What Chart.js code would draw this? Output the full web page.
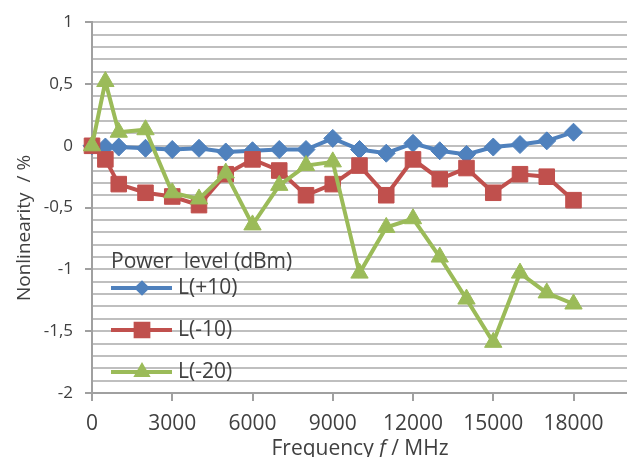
<!DOCTYPE html>
<html>
<head>
<meta charset="utf-8">
<script src="https://cdn.jsdelivr.net/npm/chart.js@4.4.1/dist/chart.umd.min.js"></script>
<style>
  html, body { margin: 0; padding: 0; background: #fff; }
  #wrap { width: 627px; height: 457px; position: relative; }
</style>
</head>
<body>
<div id="wrap"><canvas id="chart"></canvas></div>
<script>
// Frequencies (MHz) and nonlinearity (%)
const freqs = [0, 500, 1000, 2000, 3000, 4000, 5000, 6000, 7000, 8000, 9000,
               10000, 11000, 12000, 13000, 14000, 15000, 16000, 17000, 18000];
const seriesP10 = [0, -0.01, -0.01, -0.02, -0.03, -0.02, -0.05, -0.04, -0.03, -0.03, 0.06,
                   -0.03, -0.06, 0.02, -0.04, -0.07, -0.01, 0.01, 0.04, 0.11];
const seriesM10 = [0, -0.11, -0.31, -0.38, -0.41, -0.48, -0.23, -0.11, -0.2, -0.4, -0.31,
                   -0.16, -0.4, -0.11, -0.27, -0.18, -0.38, -0.23, -0.25, -0.44];
const seriesM20 = [0, 0.52, 0.11, 0.13, -0.38, -0.43, -0.22, -0.64, -0.32, -0.16, -0.13,
                   -1.03, -0.66, -0.59, -0.9, -1.24, -1.59, -1.03, -1.19, -1.28];
const seriesNames = ['L(+10)', 'L(-10)', 'L(-20)'];
const legendTitle = 'Power  level (dBm)';
const xTicks = [0, 3000, 6000, 9000, 12000, 15000, 18000];

const FONT = "'Open Sans', sans-serif";
const TEXT = '#404040';
const GRID = '#bfbfbf';
const AXIS = '#a0a0a0';

const toXY = arr => arr.map((v, i) => ({ x: freqs[i], y: v }));

function makeSet(label, data, color, style, radius, order) {
    return {
        label: label, data: toXY(data), borderColor: color, backgroundColor: color,
        borderWidth: 4, pointStyle: style, pointRadius: radius, pointHoverRadius: radius,
        pointBorderWidth: 1, pointBackgroundColor: color, pointBorderColor: color,
        clip: false, order: order
    };
}

const legendMarks = [
    { style: 'rectRot', radius: 5 },
    { style: 'rect', radius: 9 },
    { style: 'triangle', radius: 6 }
];

// legend inside the plot + axis titles (the x title has an italic f)
const extras = {
    id: 'extras',
    afterDraw(chart) {
        const ctx = chart.ctx;
        ctx.save();
        ctx.fillStyle = TEXT;
        ctx.textBaseline = 'middle';
        ctx.textAlign = 'left';
        ctx.font = `21px ${FONT}`;
        ctx.fillText(legendTitle, 111, 262);

        chart.data.datasets.forEach((ds, i) => {
            const y = 288 + i * 42;
            ctx.strokeStyle = ds.borderColor;
            ctx.lineWidth = 4;
            ctx.beginPath();
            ctx.moveTo(111, y);
            ctx.lineTo(172, y);
            ctx.stroke();
            ctx.fillStyle = ds.borderColor;
            Chart.helpers.drawPoint(ctx, {
                pointStyle: legendMarks[i].style, radius: legendMarks[i].radius,
                rotation: 0, borderWidth: 1
            }, 142, y);
            ctx.fillStyle = TEXT;
            ctx.font = `21px ${FONT}`;
            ctx.fillText(ds.label, 178, y);
        });

        // x title
        const parts = [
            { t: 'Frequency ', f: `21px ${FONT}` },
            { t: 'f', f: `italic 21px ${FONT}` },
            { t: ' / MHz', f: `21px ${FONT}` }
        ];
        let w = 0;
        parts.forEach(p => { ctx.font = p.f; w += ctx.measureText(p.t).width; });
        let x = 360 - w / 2;
        ctx.textBaseline = 'alphabetic';
        parts.forEach(p => {
            ctx.font = p.f;
            ctx.fillText(p.t, x, 455);
            x += ctx.measureText(p.t).width;
        });

        // y title
        ctx.translate(25, 228);
        ctx.rotate(-Math.PI / 2);
        ctx.textAlign = 'center';
        ctx.textBaseline = 'middle';
        ctx.font = `19px ${FONT}`;
        ctx.fillText('Nonlinearity  / %', 0, 0);
        ctx.restore();
    }
};

const isHalf = v => Math.abs(Math.round(v * 10)) % 5 === 0;

new Chart(document.getElementById('chart'), {
    type: 'line',
    data: {
        datasets: [
            makeSet(seriesNames[0], seriesP10, '#4f81bd', 'rectRot', 9, 2),
            makeSet(seriesNames[1], seriesM10, '#c0504d', 'rect', 11, 1),
            makeSet(seriesNames[2], seriesM20, '#9bbb59', 'triangle', 10, 0)
        ]
    },
    options: {
        responsive: true,
        maintainAspectRatio: false,
        animation: false,
        layout: { autoPadding: false, padding: { top: 17, right: 0, left: 0, bottom: 0 } },
        plugins: { legend: { display: false }, tooltip: { enabled: false } },
        elements: { line: { tension: 0 } },
        scales: {
            x: {
                type: 'linear', min: 0, max: 20000,
                afterFit: s => { s.height = 64; s.paddingRight = 0; s.paddingLeft = 0; },
                afterBuildTicks: s => { s.ticks = xTicks.map(v => ({ value: v })); },
                ticks: {
                    font: { family: FONT, size: 21 }, color: TEXT, padding: 10,
                    maxRotation: 0, autoSkip: false, includeBounds: false,
                    callback: v => String(v)
                },
                grid: { drawOnChartArea: false, drawTicks: true, tickLength: 8, tickColor: AXIS, lineWidth: 2 },
                border: { color: AXIS, width: 2 }
            },
            y: {
                min: -2, max: 1,
                afterFit: s => { s.width = 92; },
                ticks: {
                    stepSize: 0.1, maxTicksLimit: 100, autoSkip: false,
                    font: { family: FONT, size: 17 }, color: TEXT, padding: 12,
                    callback: v => isHalf(v) ? String(Math.round(v * 10) / 10).replace('.', ',') : ''
                },
                grid: {
                    color: GRID, lineWidth: 2, drawTicks: true, tickLength: 7,
                    tickColor: c => isHalf(c.tick.value) ? AXIS : 'rgba(0,0,0,0)'
                },
                border: { color: AXIS, width: 2 }
            }
        }
    },
    plugins: [extras]
});
</script>
</body>
</html>
